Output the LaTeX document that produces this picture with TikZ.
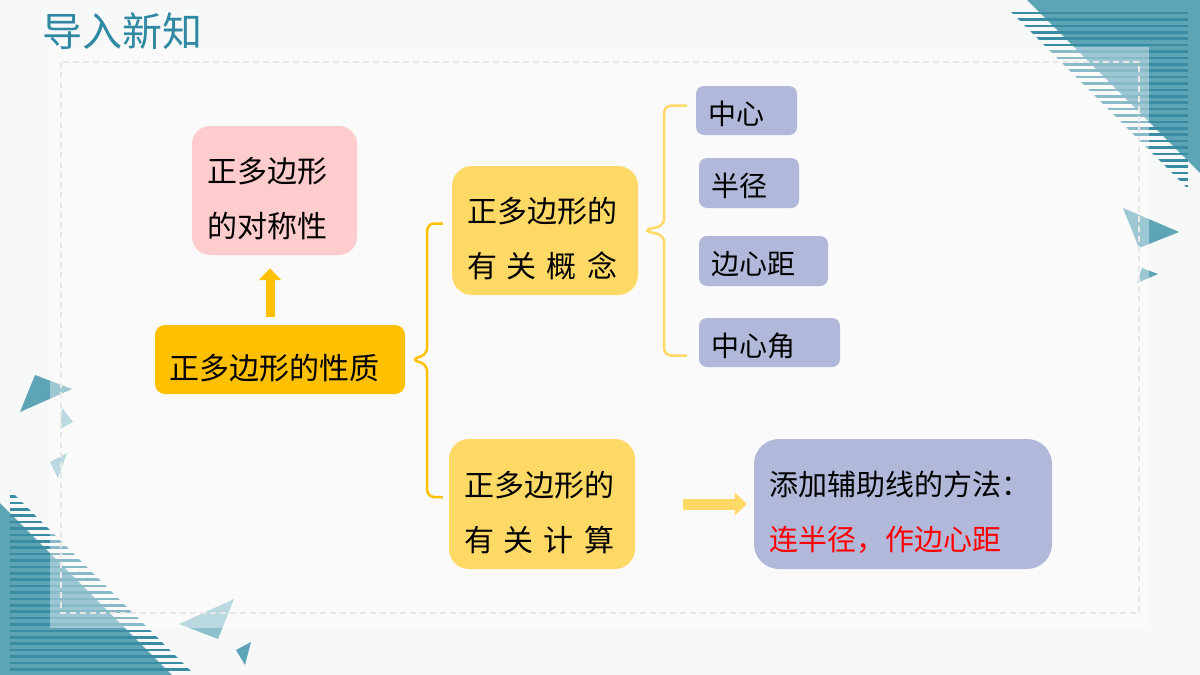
\documentclass[tikz,border=0pt]{standalone}
\usepackage{fontspec}
\newfontfamily\cjk{Noto Sans CJK SC}
\usetikzlibrary{arrows.meta,calc}
\definecolor{tealT}{HTML}{2F89A3}
\definecolor{tealA}{HTML}{5DA4B6}
\definecolor{tealB}{HTML}{3A8CA3}
\definecolor{tealL}{HTML}{8DC0CD}
\definecolor{pinkC}{HTML}{FFCCCE}
\definecolor{orangeC}{HTML}{FFC000}
\definecolor{yellowC}{HTML}{FFD966}
\definecolor{lavC}{HTML}{B1B8D9}
\definecolor{bgC}{HTML}{F7F8F8}
\tikzset{
  card/.style={align=left,inner ysep=0pt,font=\cjk\fontsize{30}{55}\selectfont,
    execute at begin node={\rule{0pt}{42pt}}},
  leaf/.style={fill=lavC,rounded corners=8pt,align=left,inner ysep=0pt,inner xsep=12pt,
    minimum height=49pt,font=\cjk\fontsize{28}{34}\selectfont,
    execute at begin node={\rule{0pt}{30pt}}},
  bline/.style={line width=2.5pt,rounded corners=7pt},
  fat/.style={line width=#1,-{Triangle[length=12pt,width=22pt]}},
  stripe/.style={tealB,line width=2.6pt},
}

\begin{document}
\begin{tikzpicture}[x=1pt,y=-1pt]
  \fill[bgC] (0,0) rectangle (1200,675);
  \useasboundingbox (0,0) rectangle (1200,675);
  \fill[tealA] (1027,0) -- (1200,0) -- (1200,173) -- cycle;
  \begin{scope}
    \clip (999,0) -- (1188,189) -- (1188,0) -- cycle;
    \foreach \y in {13,19.4,...,189} \draw[stripe] (990,\y) -- (1188,\y);
  \end{scope}
  \fill[tealA] (0,503) -- (172,675) -- (0,675) -- cycle;
  \begin{scope}
    \clip (10,490) -- (195,675) -- (10,675) -- cycle;
    \foreach \y in {490,496.4,...,675} \draw[stripe] (10,\y) -- (200,\y);
  \end{scope}
  \fill[tealA] (1123,208) -- (1179,232) -- (1139,248) -- cycle;
  \fill[tealA] (1142,268) -- (1158,274) -- (1137,283) -- cycle;
  \fill[tealA] (20,412) -- (35,375) -- (72,389) -- cycle;
  \fill[tealL] (62,408) -- (73,422) -- (60,429) -- cycle;
  \fill[tealL] (50,462) -- (67,453) -- (58,478) -- cycle;
  \fill[tealL] (179,624) -- (234,599) -- (218,639) -- cycle;
  \fill[tealA] (236,650) -- (251,642) -- (245,665) -- cycle;
  \fill[white,opacity=0.4] (50,47) rectangle (1149,628);
  \draw[gray!18,line width=1.2pt,dash pattern=on 6pt off 4pt] (61,62) rectangle (1139,613);

  \node[text=tealT,font=\cjk\fontsize{40}{44}\selectfont] (title) at (122,31) {导入新知};

  \node[card,fill=pinkC,rounded corners=18pt,text width=135pt,inner xsep=15pt,minimum height=129pt]
    (duichen) at (274.5,190.5) {正多边形\\的对称性};
  \node[card,fill=orangeC,rounded corners=10pt,text width=222pt,inner xsep=14pt,minimum height=69pt]
    (xingzhi) at (280,359.5) {正多边形的性质};
  \node[card,fill=yellowC,rounded corners=20pt,text width=156pt,inner xsep=15pt,minimum height=129pt]
    (gainian) at (545,230.5) {正多边形的\\\makebox[5em][s]{有\hfill 关\hfill 概\hfill 念}};
  \node[card,fill=yellowC,rounded corners=20pt,text width=156pt,inner xsep=15pt,minimum height=130pt]
    (jisuan) at (542,504) {正多边形的\\\makebox[5em][s]{有\hfill 关\hfill 计\hfill 算}};
  \node[leaf,text width=77pt] (zhongxin) at (746.5,110.5) {中心};
  \node[leaf,text width=76pt,minimum height=50pt] (banjing) at (749,183) {半径};
  \node[leaf,text width=105pt,minimum height=50pt] (bianxinju) at (763.5,261) {边心距};
  \node[leaf,text width=117pt] (jiao) at (769.5,342.5) {中心角};
  \node[card,fill=lavC,rounded corners=25pt,text width=268pt,inner xsep=15pt,minimum height=130pt,
    font=\cjk\fontsize{29}{55}\selectfont]
    (fangfa) at (903,504) {添加辅助线的方法：\\\textcolor{red}{连半径，作边心距}};

  \draw[bline,orangeC] ($(gainian.west)+(-9,-7)$) -| ($(xingzhi.east)+(22,-5)$)
    -- ($(xingzhi.east)+(6,0)$) -- ($(xingzhi.east)+(22,5)$) |- ($(jisuan.west)+(-6,-7)$);
  \draw[bline,yellowC] ($(zhongxin.west)+(-9,-5)$) -| ($(gainian.east)+(26,-5)$)
    -- ($(gainian.east)+(5,0)$) -- ($(gainian.east)+(26,5)$) |- ($(jiao.west)+(-12,13)$);

  \coordinate (upfoot) at ($(xingzhi.north)+(-10,0)$);
  \draw[fat=9pt,orangeC,shorten <=8pt,shorten >=13pt] (upfoot) -- (upfoot |- duichen.south);
  \draw[fat=11pt,yellowC,shorten <=48pt,shorten >=7pt] (jisuan.east) -- (fangfa.west);
\end{tikzpicture}
\end{document}
